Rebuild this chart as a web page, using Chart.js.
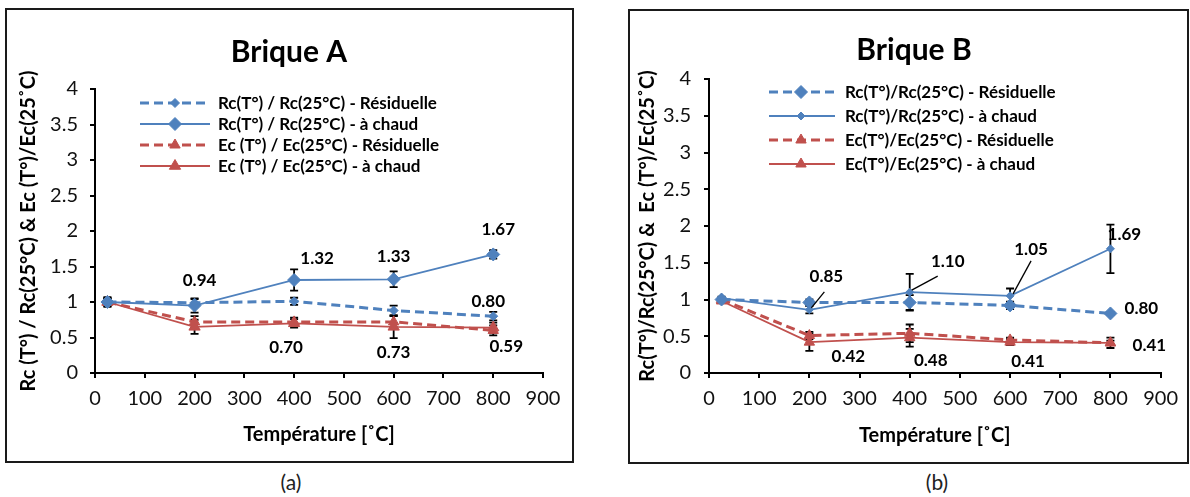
<!DOCTYPE html>
<html lang="fr">
<head>
<meta charset="UTF-8">
<title>Brique A / Brique B</title>
<script src="https://cdn.jsdelivr.net/npm/chart.js"></script>
<style>
    body {
        margin: 0;
        width: 1190px;
        height: 497px;
        background: #fff;
        position: relative;
        overflow: hidden;
        font-family: Lato, sans-serif;
    }
    .frame { position: absolute; border: 2px solid #1a1a1a; box-sizing: border-box; }
    .holder { position: absolute; }
    .caption { position: absolute; font-size: 21px; color: #222; transform: translateX(-50%); }
</style>
</head>
<body>
<div class="frame" style="left:5px;top:8px;width:569px;height:455px;"></div>
<div class="holder" style="left:6px;top:9px;width:566px;height:452px;"><canvas id="chartA"></canvas></div>
<div class="frame" style="left:628px;top:9px;width:561px;height:455px;"></div>
<div class="holder" style="left:629px;top:10px;width:558px;height:452px;"><canvas id="chartB"></canvas></div>
<div class="caption" style="left:291px;top:469px;">(a)</div>
<div class="caption" style="left:937px;top:469px;">(b)</div>

<script>
    Chart.defaults.font.family = "Lato, 'Open Sans', sans-serif";
    Chart.defaults.color = '#111';
    Chart.defaults.animation = false;

    const BLUE = '#4F81BD';
    const RED = '#C0504D';

    const temperatures = [25, 200, 400, 600, 800];
    const xMin = 0, xMax = 900, xStep = 100;
    const yMin = 0, yMax = 4, yStep = 0.5;

    // Brique A
    const rcResA = [1.00, 0.99, 1.01, 0.88, 0.80];
    const rcResErrA = [0.05, 0.05, 0.05, 0.07, 0.06];
    const rcChaudA = [1.00, 0.95, 1.31, 1.32, 1.67];
    const rcChaudErrA = [0.07, 0.10, 0.15, 0.11, 0.06];
    const ecResA = [1.00, 0.72, 0.72, 0.72, 0.60];
    const ecResErrA = [0.05, 0.08, 0.06, 0.08, 0.07];
    const ecChaudA = [1.00, 0.65, 0.70, 0.65, 0.64];
    const ecChaudErrA = [0.05, 0.10, 0.06, 0.16, 0.07];
    const rcResTagsA = [null, null, null, null, '0.80'];
    const rcChaudTagsA = [null, '0.94', '1.32', '1.33', '1.67'];
    const ecResTagsA = [null, null, null, null, null];
    const ecChaudTagsA = [null, null, '0.70', '0.73', '0.59'];

    // Brique B
    const rcResB = [1.00, 0.96, 0.96, 0.92, 0.81];
    const rcResErrB = [0.02, 0.04, 0.10, 0.05, 0.02];
    const rcChaudB = [1.02, 0.86, 1.10, 1.05, 1.69];
    const rcChaudErrB = [0.02, 0.05, 0.25, 0.10, 0.33];
    const ecResB = [1.00, 0.51, 0.54, 0.45, 0.41];
    const ecResErrB = [0.02, 0.05, 0.12, 0.03, 0.03];
    const ecChaudB = [0.98, 0.42, 0.48, 0.42, 0.41];
    const ecChaudErrB = [0.02, 0.12, 0.12, 0.04, 0.07];
    const rcResTagsB = [null, null, null, null, '0.80'];
    const rcChaudTagsB = [null, '0.85', '1.10', '1.05', '1.69'];
    const ecResTagsB = [null, null, null, null, null];
    const ecChaudTagsB = [null, '0.42', '0.48', '0.41', '0.41'];

    const xTitle = 'Température [˚C]';

    const series = (label, values, errs, tags, color, dashed, pointStyle, radius) => ({
        label: label,
        data: temperatures.map((t, i) => ({ x: t, y: values[i] })),
        err: errs,
        tags: tags,
        borderColor: color,
        backgroundColor: color,
        borderWidth: dashed ? 3 : 1.8,
        borderDash: dashed ? [9, 5] : [],
        pointStyle: pointStyle,
        pointRadius: radius,
        pointBorderWidth: 1,
        pointBackgroundColor: color,
        pointBorderColor: color,
        tension: 0,
        fill: false
    });

    // error bars, value tags, title and in-plot legend
    const makeOverlay = (cfg) => ({
        id: 'overlay',
        beforeDatasetsDraw(chart) {
            const { ctx } = chart;
            const xs = chart.scales.x, ys = chart.scales.y;
            ctx.save();
            ctx.strokeStyle = '#000';
            ctx.lineWidth = 1.8;
            chart.data.datasets.forEach(ds => {
                ds.err.forEach((e, i) => {
                    const p = ds.data[i];
                    const px = xs.getPixelForValue(p.x);
                    const t = ys.getPixelForValue(p.y + e);
                    const b = ys.getPixelForValue(p.y - e);
                    ctx.beginPath();
                    ctx.moveTo(px, t); ctx.lineTo(px, b);
                    ctx.moveTo(px - 4, t); ctx.lineTo(px + 4, t);
                    ctx.moveTo(px - 4, b); ctx.lineTo(px + 4, b);
                    ctx.stroke();
                });
            });
            ctx.restore();
        },
        afterDatasetsDraw(chart) {
            const { ctx } = chart;
            const xs = chart.scales.x, ys = chart.scales.y;
            ctx.save();
            ctx.textAlign = 'center';
            ctx.textBaseline = 'middle';
            ctx.fillStyle = '#000';
            ctx.strokeStyle = '#000';
            ctx.lineWidth = 1.3;
            ctx.font = "bold 17px Lato, sans-serif";
            chart.data.datasets.forEach((ds, d) => {
                ds.tags.forEach((txt, i) => {
                    if (!txt) return;
                    const off = cfg.tagOffsets[d][i];
                    const px = xs.getPixelForValue(ds.data[i].x);
                    const py = ys.getPixelForValue(ds.data[i].y);
                    if (off.length > 2) {
                        ctx.beginPath();
                        ctx.moveTo(px + off[2], py + off[3]);
                        ctx.lineTo(px + off[4], py + off[5]);
                        ctx.stroke();
                    }
                    ctx.fillText(txt, px + off[0], py + off[1]);
                });
            });

            ctx.font = "bold 30px Lato, sans-serif";
            ctx.fillText(cfg.title, cfg.titleAt[0], cfg.titleAt[1]);

            const L = cfg.legend;
            ctx.font = "bold 17px Lato, sans-serif";
            ctx.textAlign = 'left';
            chart.data.datasets.forEach((ds, d) => {
                const y = L.rows[d];
                ctx.save();
                ctx.strokeStyle = ds.borderColor;
                ctx.lineWidth = ds.borderWidth;
                ctx.setLineDash(ds.borderDash);
                ctx.beginPath();
                ctx.moveTo(L.x0, y);
                ctx.lineTo(L.x1, y);
                ctx.stroke();
                ctx.setLineDash([]);
                ctx.fillStyle = ds.pointBackgroundColor;
                ctx.strokeStyle = ds.pointBorderColor;
                ctx.lineWidth = 1;
                Chart.helpers.drawPoint(ctx, {
                    pointStyle: ds.pointStyle, radius: ds.pointRadius, rotation: 0, borderWidth: 1
                }, L.mark, y);
                ctx.restore();
                ctx.fillStyle = '#000';
                ctx.fillText(ds.label, L.text, y + 1);
            });
            ctx.restore();
        }
    });

    const makeChart = (id, datasets, cfg) => new Chart(document.getElementById(id), {
        type: 'line',
        data: { datasets: datasets },
        options: {
            responsive: true,
            maintainAspectRatio: false,
            layout: { padding: { top: cfg.area.top, right: cfg.area.right, bottom: 0, left: 0 } },
            plugins: { legend: { display: false }, tooltip: { enabled: false }, title: { display: false } },
            scales: {
                x: {
                    type: 'linear',
                    min: xMin, max: xMax,
                    afterFit: (s) => { s.height = cfg.area.xHeight; },
                    ticks: { stepSize: xStep, color: '#111', font: { size: 20 }, padding: 9 },
                    grid: { drawOnChartArea: false, drawTicks: true, tickLength: 5, color: '#000', lineWidth: 2 },
                    border: { color: '#000', width: 2 },
                    title: {
                        display: true, text: xTitle, color: '#000',
                        font: { size: 20, weight: 'bold' }, padding: { top: 0, bottom: 14 }
                    }
                },
                y: {
                    min: yMin, max: yMax,
                    afterFit: (s) => { s.width = cfg.area.yWidth; },
                    ticks: {
                        stepSize: yStep, color: '#111', font: { size: 20 }, padding: cfg.area.yPad,
                        callback: (v) => String(Math.round(v * 10) / 10)
                    },
                    grid: { drawOnChartArea: false, drawTicks: true, tickLength: 5, color: '#000', lineWidth: 2 },
                    border: { color: '#000', width: 2 },
                    title: {
                        display: true, text: cfg.yTitle, color: '#000',
                        font: { size: 20, weight: 'bold' }, padding: { top: cfg.area.yTitlePad, bottom: 0 }
                    }
                }
            }
        },
        plugins: [makeOverlay(cfg)]
    });

    makeChart('chartA', [
        series('Rc(T°) / Rc(25°C) - Résiduelle', rcResA, rcResErrA, rcResTagsA, BLUE, true, 'rectRot', 4.5),
        series('Rc(T°) / Rc(25°C) - à chaud', rcChaudA, rcChaudErrA, rcChaudTagsA, BLUE, false, 'rectRot', 6.5),
        series('Ec (T°) / Ec(25°C) - Résiduelle', ecResA, ecResErrA, ecResTagsA, RED, true, 'triangle', 6),
        series('Ec (T°) / Ec(25°C) - à chaud', ecChaudA, ecChaudErrA, ecChaudTagsA, RED, false, 'triangle', 6.5)
    ], {
        title: 'Brique A',
        titleAt: [283, 43],
        yTitle: 'Rc (T°) / Rc(25°C) & Ec (T°)/Ec(25˚C)',
        area: { top: 80, right: 29, xHeight: 88, yWidth: 89, yPad: 12, yTitlePad: 11 },
        legend: { x0: 134, x1: 204, mark: 169, text: 212, rows: [94, 115, 136, 157] },
        tagOffsets: {
            0: { 4: [-5, -15] },
            1: { 1: [5, -25], 2: [23, -21], 3: [0, -23], 4: [5, -25] },
            3: { 2: [-8, 24], 3: [0, 26], 4: [13, 19] }
        }
    });

    makeChart('chartB', [
        series('Rc(T°)/Rc(25°C) - Résiduelle', rcResB, rcResErrB, rcResTagsB, BLUE, true, 'rectRot', 6.5),
        series('Rc(T°)/Rc(25°C) - à chaud', rcChaudB, rcChaudErrB, rcChaudTagsB, BLUE, false, 'rectRot', 4),
        series('Ec(T°)/Ec(25°C) - Résiduelle', ecResB, ecResErrB, ecResTagsB, RED, true, 'triangle', 6),
        series('Ec(T°)/Ec(25°C) - à chaud', ecChaudB, ecChaudErrB, ecChaudTagsB, RED, false, 'triangle', 6)
    ], {
        title: 'Brique B',
        titleAt: [285, 40],
        yTitle: 'Rc(T°)/Rc(25°C) &  Ec (T°)/Ec(25˚C)',
        area: { top: 69, right: 24, xHeight: 89, yWidth: 80, yPad: 13, yTitlePad: 7 },
        legend: { x0: 140, x1: 206, mark: 172, text: 216, rows: [82, 106, 130, 154] },
        tagOffsets: {
            0: { 4: [31, -5] },
            1: { 1: [17, -33, 15, -18, 2, -2], 2: [38, -31, 28, -16, 2, -2], 3: [21, -46, 21, -35, 3, -2], 4: [14, -14] },
            3: { 1: [39, 14], 2: [21, 23], 3: [18, 19], 4: [39, 3] }
        }
    });
</script>
</body>
</html>
